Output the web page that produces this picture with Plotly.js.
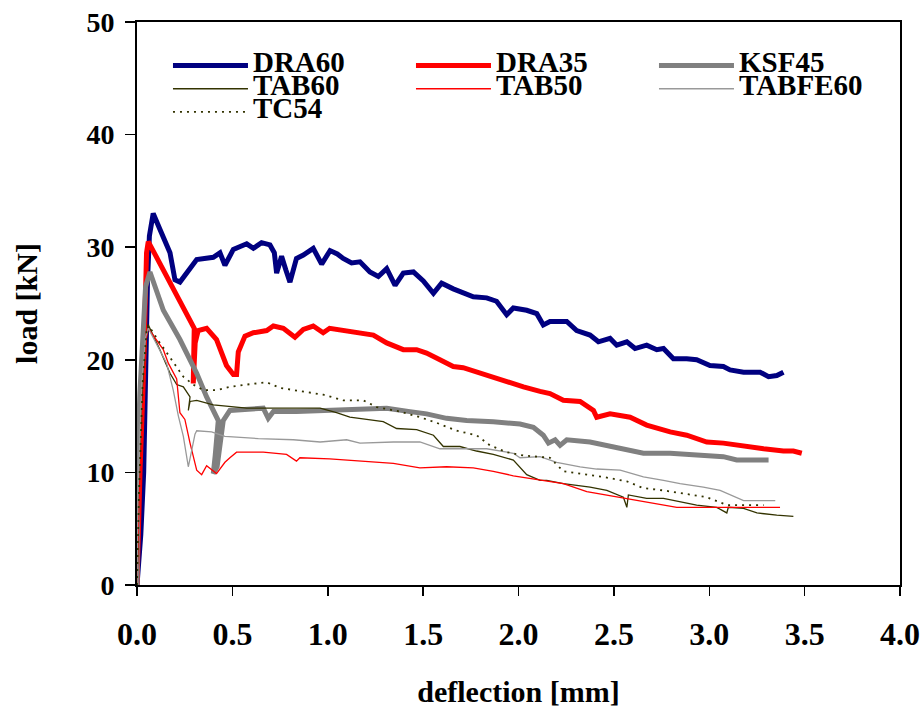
<!DOCTYPE html>
<html>
<head>
<meta charset="utf-8">
<script src="https://cdn.plot.ly/plotly-3.0.1.min.js"></script>
<style>html,body{margin:0;padding:0;background:#fff;}#chart{width:921px;height:708px;}</style>
</head>
<body>
<div id="chart"></div>
<script>
// Series names
const seriesNames = ["DRA60", "DRA35", "KSF45", "TAB60", "TAB50", "TABFE60", "TC54"];

// DRA60
const xDRA60 = [0, 0.01, 0.02, 0.035, 0.045, 0.055, 0.065, 0.085, 0.12, 0.173, 0.199, 0.225, 0.313, 0.40, 0.435, 0.461, 0.505, 0.575, 0.61, 0.653, 0.697, 0.72, 0.732, 0.758, 0.78, 0.802, 0.836, 0.872, 0.924, 0.968, 1.012, 1.05, 1.081, 1.125, 1.169, 1.221, 1.265, 1.309, 1.353, 1.396, 1.449, 1.501, 1.554, 1.597, 1.658, 1.71, 1.763, 1.833, 1.885, 1.938, 1.973, 2.043, 2.096, 2.13, 2.165, 2.253, 2.305, 2.375, 2.419, 2.48, 2.515, 2.568, 2.611, 2.672, 2.725, 2.76, 2.812, 2.882, 2.934, 3.004, 3.074, 3.109, 3.18, 3.267, 3.311, 3.354, 3.389];
const yDRA60 = [0, 2, 4.5, 10, 20, 27, 31, 33.0, 31.6, 29.5, 27.1, 26.9, 28.9, 29.1, 29.5, 28.4, 29.8, 30.3, 29.9, 30.4, 30.2, 29.5, 27.7, 29.2, 28.0, 26.9, 29.0, 29.3, 29.9, 28.5, 29.7, 29.4, 29.0, 28.6, 28.7, 27.8, 27.4, 28.1, 26.6, 27.7, 27.8, 27.0, 25.9, 26.8, 26.3, 25.9, 25.6, 25.5, 25.2, 24.0, 24.6, 24.4, 24.1, 23.1, 23.4, 23.4, 22.6, 22.2, 21.6, 21.9, 21.3, 21.6, 21.0, 21.3, 20.9, 21.0, 20.1, 20.1, 20.0, 19.5, 19.4, 19.1, 18.9, 18.9, 18.5, 18.6, 18.9];

// DRA35
const xDRA35 = [0, 0.005, 0.016, 0.033, 0.042, 0.05, 0.059, 0.30, 0.295, 0.305, 0.321, 0.365, 0.417, 0.469, 0.505, 0.522, 0.531, 0.566, 0.61, 0.68, 0.715, 0.767, 0.828, 0.872, 0.924, 0.976, 1.01, 1.081, 1.169, 1.239, 1.309, 1.396, 1.466, 1.518, 1.588, 1.658, 1.71, 1.798, 1.868, 1.938, 2.026, 2.113, 2.165, 2.235, 2.323, 2.393, 2.41, 2.48, 2.585, 2.672, 2.795, 2.882, 2.987, 3.074, 3.18, 3.285, 3.389, 3.441, 3.485];
const yDRA35 = [0, 5, 10.2, 18.2, 25.6, 29.5, 30.5, 22.8, 17.9, 21.5, 22.6, 22.8, 21.8, 19.5, 18.7, 18.7, 20.7, 22.1, 22.4, 22.6, 23.0, 22.8, 22.0, 22.7, 23.0, 22.4, 22.8, 22.6, 22.4, 22.2, 21.5, 20.9, 20.9, 20.6, 20.0, 19.4, 19.3, 18.8, 18.4, 18.1, 17.6, 17.2, 17.0, 16.4, 16.3, 15.5, 14.9, 15.2, 14.9, 14.2, 13.6, 13.3, 12.7, 12.6, 12.3, 12.1, 11.9, 11.9, 11.7];

// KSF45
const xKSF45 = [0, 0.005, 0.015, 0.03, 0.045, 0.068, 0.138, 0.225, 0.313, 0.365, 0.426, 0.41, 0.40, 0.42, 0.435, 0.452, 0.487, 0.557, 0.662, 0.688, 0.715, 0.836, 1.01, 1.186, 1.309, 1.431, 1.518, 1.623, 1.728, 1.868, 2.008, 2.078, 2.13, 2.157, 2.192, 2.218, 2.253, 2.375, 2.498, 2.585, 2.655, 2.795, 2.934, 3.074, 3.144, 3.311];
const yKSF45 = [0, 12, 17, 22, 26.5, 27.8, 24.4, 21.8, 18.8, 16.7, 14.6, 11.5, 9.9, 10.5, 12.3, 14.6, 15.5, 15.6, 15.7, 14.8, 15.4, 15.4, 15.5, 15.6, 15.7, 15.4, 15.2, 14.8, 14.6, 14.5, 14.3, 14.0, 13.3, 12.6, 12.9, 12.4, 12.9, 12.7, 12.3, 12.0, 11.7, 11.7, 11.6, 11.4, 11.1, 11.1];

// TAB60
const xTAB60 = [0, 0.01, 0.03, 0.05, 0.059, 0.12, 0.173, 0.208, 0.243, 0.278, 0.269, 0.278, 0.313, 0.40, 0.575, 0.75, 0.96, 1.046, 1.116, 1.204, 1.291, 1.361, 1.466, 1.554, 1.606, 1.693, 1.78, 1.868, 1.973, 2.043, 2.113, 2.148, 2.235, 2.375, 2.463, 2.55, 2.568, 2.576, 2.672, 2.76, 2.847, 2.934, 3.039, 3.092, 3.10, 3.18, 3.25, 3.354, 3.441];
const yTAB60 = [0, 8, 17, 22, 23.1, 20.9, 18.8, 17.8, 17.6, 16.7, 15.5, 16.3, 16.4, 16.0, 15.7, 15.7, 15.7, 15.3, 14.9, 14.7, 14.5, 13.9, 13.8, 13.3, 12.3, 12.3, 11.9, 11.6, 11.1, 9.8, 9.3, 9.3, 9.0, 8.7, 8.4, 7.8, 6.9, 8.0, 7.7, 7.7, 7.4, 7.1, 6.9, 6.4, 6.9, 6.8, 6.4, 6.2, 6.1];

// TAB50
const xTAB50 = [0, 0.01, 0.03, 0.05, 0.059, 0.138, 0.164, 0.208, 0.225, 0.251, 0.278, 0.313, 0.339, 0.365, 0.417, 0.461, 0.487, 0.522, 0.662, 0.784, 0.836, 0.854, 1.01, 1.186, 1.344, 1.483, 1.623, 1.763, 1.868, 1.973, 2.113, 2.235, 2.358, 2.463, 2.637, 2.83, 3.039, 3.371];
const yTAB50 = [0, 7, 16, 22, 22.8, 20.9, 19.7, 18.3, 15.3, 14.7, 12.6, 10.2, 9.8, 10.6, 9.9, 10.9, 11.3, 11.8, 11.8, 11.6, 11.0, 11.3, 11.2, 11.0, 10.8, 10.4, 10.5, 10.4, 10.1, 9.7, 9.3, 9.0, 8.3, 8.0, 7.5, 6.9, 6.9, 6.9];

// TABFE60
const xTABFE60 = [0, 0.005, 0.025, 0.045, 0.059, 0.155, 0.19, 0.217, 0.243, 0.269, 0.286, 0.304, 0.313, 0.391, 0.461, 0.636, 0.82, 0.96, 1.099, 1.169, 1.344, 1.483, 1.588, 1.693, 1.833, 1.973, 2.008, 2.113, 2.2, 2.323, 2.41, 2.533, 2.655, 2.76, 2.847, 2.969, 3.057, 3.18, 3.346];
const yTABFE60 = [0, 8, 18, 22, 22.8, 19.7, 17.3, 15.0, 13.2, 10.5, 11.9, 13.4, 13.7, 13.6, 13.2, 13.0, 12.9, 12.7, 12.9, 12.6, 12.7, 12.7, 12.1, 12.1, 12.1, 11.7, 11.3, 11.4, 10.9, 10.5, 10.3, 10.2, 9.6, 9.3, 9.0, 8.7, 8.4, 7.5, 7.5];

// TC54
const xTC54 = [0, 0.01, 0.03, 0.05, 0.059, 0.112, 0.19, 0.243, 0.295, 0.348, 0.417, 0.487, 0.575, 0.68, 0.75, 0.872, 0.977, 1.081, 1.186, 1.257, 1.379, 1.484, 1.571, 1.676, 1.78, 1.85, 1.938, 2.026, 2.113, 2.165, 2.235, 2.323, 2.445, 2.568, 2.655, 2.76, 2.865, 2.987, 3.092, 3.197, 3.285];
const yTC54 = [0, 8, 18, 22.5, 23.1, 21.7, 19.8, 18.5, 17.8, 17.3, 17.3, 17.6, 17.8, 18.0, 17.5, 17.2, 16.9, 16.4, 16.4, 15.8, 15.4, 14.9, 14.4, 13.7, 13.3, 12.4, 11.8, 11.5, 11.4, 11.3, 10.1, 9.9, 9.6, 9.2, 8.6, 8.4, 8.1, 7.8, 7.1, 7.1, 7.1];

// Axis ticks
const xTickVals = [0, 0.5, 1.0, 1.5, 2.0, 2.5, 3.0, 3.5, 4.0];
const yTickVals = [0, 10, 20, 30, 40, 50];

const xs = [xDRA60, xDRA35, xKSF45, xTAB60, xTAB50, xTABFE60, xTC54];
const ys = [yDRA60, yDRA35, yKSF45, yTAB60, yTAB50, yTABFE60, yTC54];
const styles = [
  {color: '#000080', width: 5},
  {color: '#ff0000', width: 5},
  {color: '#808080', width: 5},
  {color: '#333300', width: 1.3},
  {color: '#ff0000', width: 1.3},
  {color: '#999999', width: 1.3},
  {color: '#333300', width: 1.8, dash: '2px,5px'}
];

const FONT = 'Liberation Serif, Times New Roman, serif';
const traces = seriesNames.map((n, i) => ({
  x: xs[i], y: ys[i], type: 'scatter', mode: 'lines',
  name: '<span style="font-size:29px">' + n + '</span>',
  line: styles[i]
}));

const layout = {
  width: 921, height: 708,
  margin: {l: 137, r: 21, t: 22, b: 123},
  paper_bgcolor: '#fff', plot_bgcolor: '#fff',
  showlegend: true,
  legend: {
    orientation: 'h', x: 0.0406, xanchor: 'left', y: 0.952, yanchor: 'top',
    font: {family: FONT, size: 15.5, color: '#000', weight: 'bold'},
    itemwidth: 75, entrywidth: 153, entrywidthmode: 'pixels',
    bgcolor: 'rgba(0,0,0,0)', traceorder: 'normal'
  },
  xaxis: {
    range: [0, 4], tickvals: xTickVals, tickformat: '.1f',
    showgrid: false, zeroline: false,
    showline: true, linecolor: '#000', linewidth: 2, mirror: true,
    ticks: 'outside', ticklen: 9, tickwidth: 1.5, tickcolor: '#000',
    ticklabelstandoff: 11,
    tickfont: {family: FONT, size: 32, color: '#000', weight: 'bold'},
    title: {text: 'deflection [mm]', standoff: 42, font: {family: FONT, size: 30, color: '#000', weight: 'bold'}}
  },
  yaxis: {
    range: [0, 50], tickvals: yTickVals,
    showgrid: false, zeroline: false,
    showline: true, linecolor: '#000', linewidth: 2, mirror: true,
    ticks: 'outside', ticklen: 10, tickwidth: 1.5, tickcolor: '#000',
    ticklabelstandoff: 5,
    tickfont: {family: FONT, size: 28, color: '#000', weight: 'bold'},
    title: {text: 'load [kN]', standoff: 40, font: {family: FONT, size: 30, color: '#000', weight: 'bold'}}
  }
};

Plotly.newPlot('chart', traces, layout, {displayModeBar: false, staticPlot: true});
</script>
</body>
</html>
